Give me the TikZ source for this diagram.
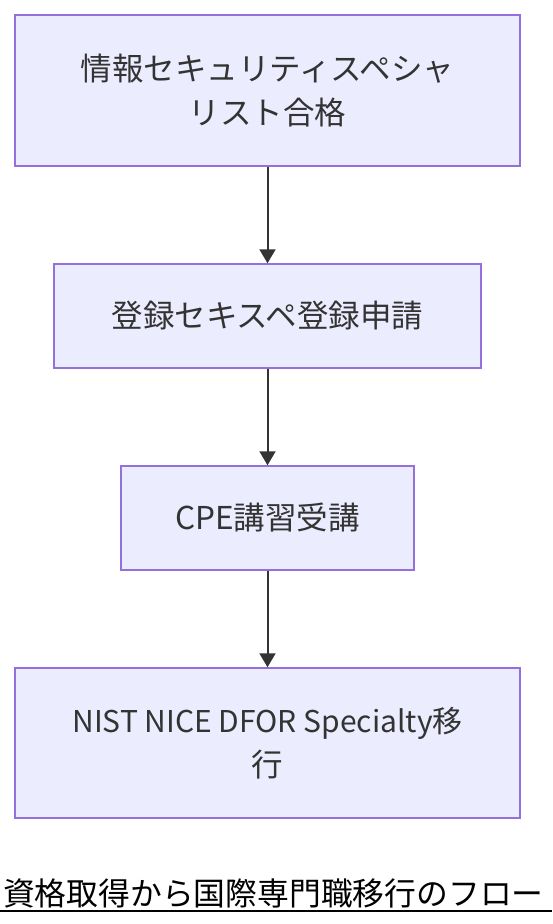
\documentclass[tikz,border=0pt]{standalone}
\usepackage{fontspec}
\setmainfont{Noto Sans CJK JP}
\usetikzlibrary{arrows.meta}
\definecolor{boxfill}{HTML}{ECECFF}
\definecolor{boxline}{HTML}{9370DB}
\definecolor{ink}{HTML}{333333}
\tikzset{
  stepbox/.style={draw=boxline, fill=boxfill, line width=1.5pt, text=ink,
    align=center, inner sep=0pt, font=\fontsize{31.5}{44}\selectfont},
  flow/.style={draw=ink, line width=2pt, -{Triangle[length=14pt,width=16pt]}}
}
\begin{document}
\begin{tikzpicture}[x=1pt,y=1pt]
\useasboundingbox (0,0) rectangle (552,-924);
\node [stepbox, minimum width=505pt, minimum height=151pt] (pass) at (267.5,-90.5)
  {情報セキュリティスペシャ\\リスト合格};
\node [stepbox, minimum width=427pt, minimum height=104pt] (reg) at (267.5,-316)
  {登録セキスペ登録申請};
\node [stepbox, minimum width=293pt, minimum height=104pt] (cpe) at (267.5,-518)
  {CPE講習受講};
\node [stepbox, minimum width=505pt, minimum height=150pt] (nice) at (267.5,-743)
  {\fontsize{30}{44}\selectfont NIST NICE DFOR Specialty移\\行};
\draw [flow] (pass) -- (reg);
\draw [flow] (reg) -- (cpe);
\draw [flow] (cpe) -- (nice);
\node [font=\fontsize{31.8}{38}\selectfont, inner sep=0pt,
  anchor=south] (title) at (273.5,-908) {資格取得から国際専門職移行のフロー};
\draw [line width=2pt] (0,-911) -- (552,-911);
\end{tikzpicture}
\end{document}
